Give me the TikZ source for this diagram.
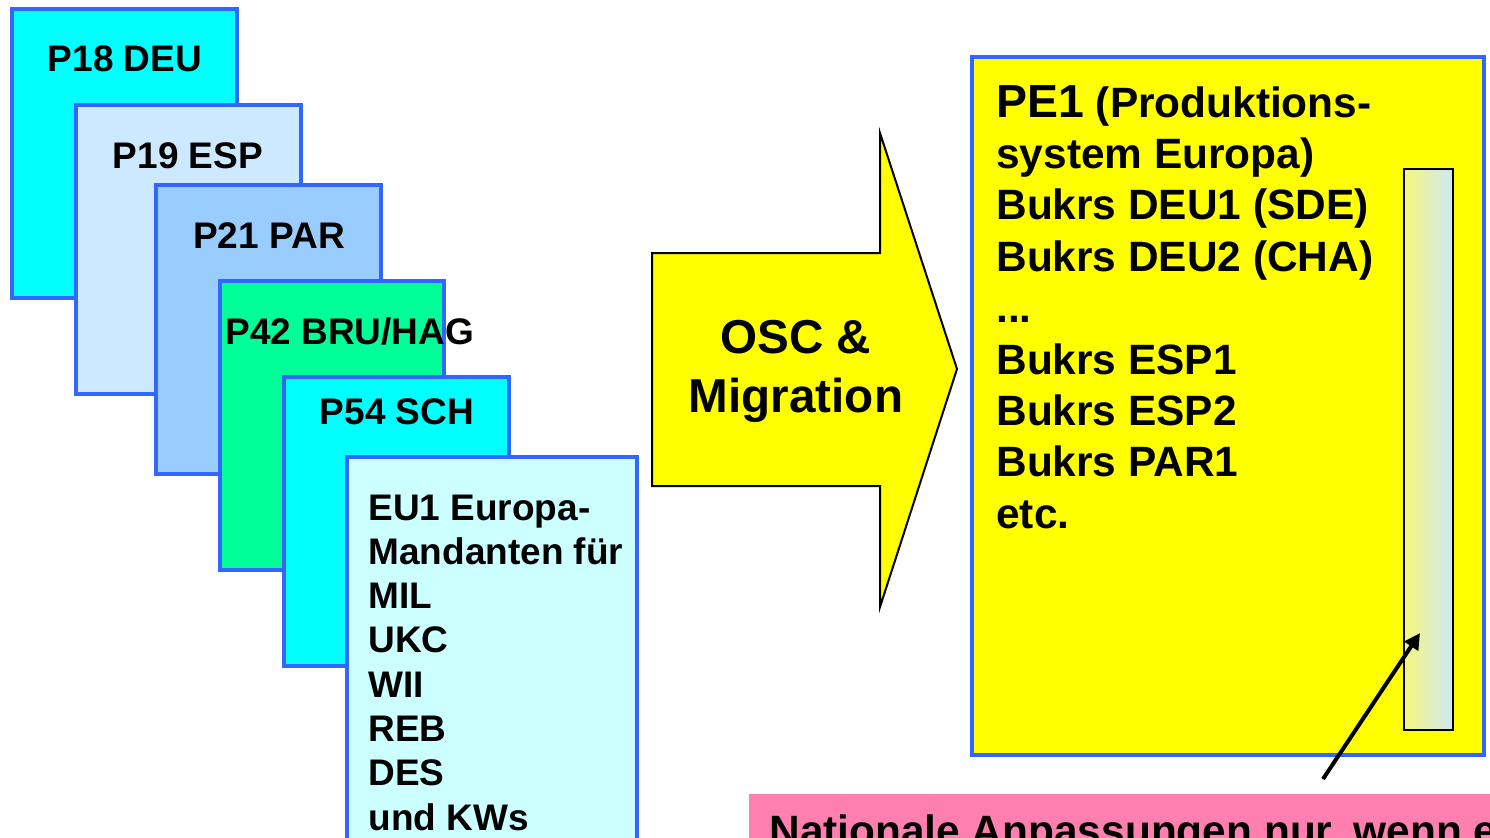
\documentclass[tikz,border=0pt]{standalone}
\usepackage{fontspec}
\setmainfont{Liberation Sans}
\usetikzlibrary{arrows.meta}
\definecolor{bdr}{RGB}{51,102,255}
\definecolor{cyanbox}{RGB}{0,255,255}
\definecolor{paleblue}{RGB}{204,233,255}
\definecolor{midblue}{RGB}{153,204,255}
\definecolor{greenbox}{RGB}{0,255,153}
\definecolor{palecyan}{RGB}{204,255,255}
\definecolor{yel}{RGB}{255,255,0}
\definecolor{pinkbox}{RGB}{255,128,176}
\definecolor{baryel}{RGB}{246,246,125}
\definecolor{barblue}{RGB}{205,232,247}
\tikzset{
  sysbox/.style={draw=bdr, line width=1.6pt},
  lbl/.style={inner sep=0pt, font=\fontsize{18.5}{22.15}\selectfont\bfseries},
  bigarrow/.style={draw=black, line width=1pt, fill=yel},
  pointer/.style={draw=black, line width=2pt, -{Triangle[length=8pt,width=8pt]}}
}
\begin{document}
\begin{tikzpicture}[x=0.5pt,y=-0.5pt]
\useasboundingbox (0,0) rectangle (1490,837);
\clip (0,0) rectangle (1490,837);
\fill[white] (0,0) rectangle (1490,837);

% stacked system boxes
\draw[sysbox, fill=cyanbox] (12,9) rectangle (237,298);
\node[lbl, anchor=base] (p18) at (125,71) {P18 DEU};
\draw[sysbox, fill=paleblue] (76,105) rectangle (301,394);
\node[lbl, anchor=base] (p19) at (188,168) {P19 ESP};
\draw[sysbox, fill=midblue] (156,185) rectangle (381,474);
\node[lbl, anchor=base] (p21) at (269,248) {P21 PAR};
\draw[sysbox, fill=greenbox] (220,281) rectangle (444,570);
\node[lbl, anchor=base west] (p42) at (225,344) {P42 BRU/HAG};
\draw[sysbox, fill=cyanbox] (284,377) rectangle (509,666);
\node[lbl, anchor=base] (p54) at (397,424) {P54 SCH};
\draw[sysbox, fill=palecyan] (347,457) rectangle (637,900);
\node[lbl, anchor=base west] (eu1) at (368,520) {\parbox[t]{170pt}{\fontsize{18.5}{22.15}\selectfont\bfseries
EU1 Europa-\\Mandanten für\\MIL\\UKC\\WII\\REB\\DES\\und KWs}};

% big arrow
\draw[bigarrow] (652,253) -- (880,253) -- (880,133) -- (957,369) -- (880,607) -- (880,486) -- (652,486) -- cycle;
\node[inner sep=0pt, anchor=base] (osc) at (796,353) {\parbox[t]{220pt}{\centering\fontsize{23.8}{29.5}\selectfont\bfseries OSC \&\\Migration}};

% target system box
\draw[sysbox, fill=yel] (972,57) rectangle (1484,755);
\shade[left color=baryel, right color=barblue] (1404,169) rectangle (1453,730);
\draw[black, line width=1pt] (1404,169) rectangle (1453,730);
\node[inner sep=0pt] (bar) at (1428.5,449.5) {};
\node[inner sep=0pt, anchor=base west] (pe1) at (996,117) {\parbox[t]{260pt}{\fontsize{21.2}{25.7}\selectfont\bfseries
{\fontsize{23.2}{25.7}\selectfont PE1} (Produktions-\\system Europa)\\Bukrs DEU1 (SDE)\\Bukrs DEU2 (CHA)\\...\\Bukrs ESP1\\Bukrs ESP2\\Bukrs PAR1\\etc.}};

% note box
\fill[pinkbox] (749,794) rectangle (1520,900);
\node[inner sep=0pt, anchor=base west, font=\fontsize{21.2}{25.7}\selectfont\bfseries] (note) at (769,845) {Nationale Anpassungen nur, wenn e};

% pointer
\coordinate (tail) at (1323,779);
\coordinate (tip) at (1420,633);
\draw[pointer] (tail) -- (tip);
\end{tikzpicture}
\end{document}
